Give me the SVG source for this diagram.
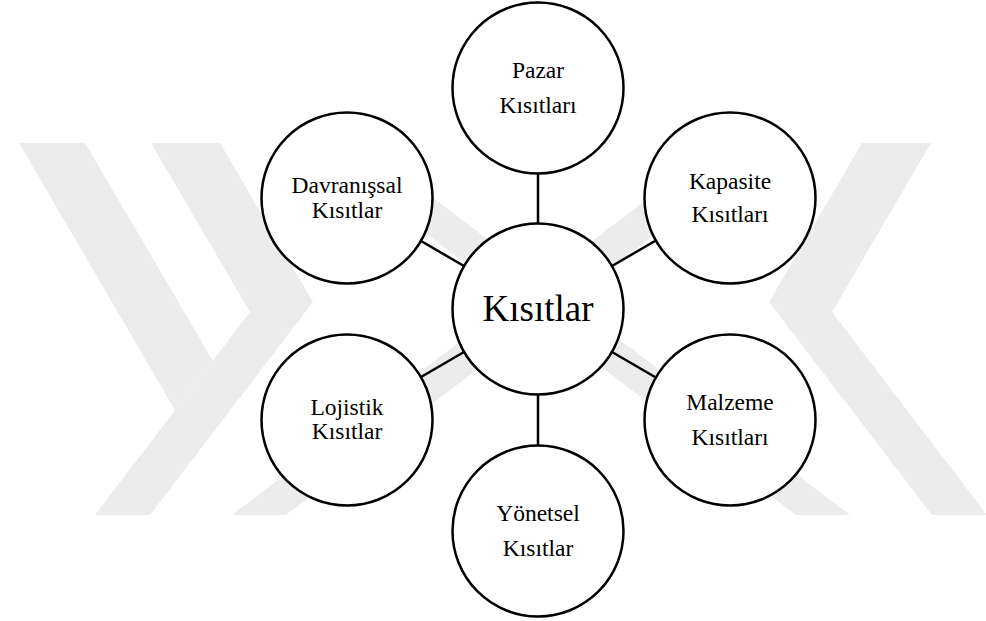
<svg xmlns="http://www.w3.org/2000/svg" width="986" height="621" viewBox="0 0 986 621">
<style>
.node{fill:#fff;stroke:#000;stroke-width:2.5}
.edge{stroke:#000;stroke-width:2.5;fill:none}
.lbl{font-family:"Liberation Serif","Times New Roman",serif;font-size:23.5px;fill:#000;text-anchor:middle}
.big{font-family:"Liberation Serif","Times New Roman",serif;font-size:37px;fill:#000;text-anchor:middle}
.wm{fill:#ececec}
</style>
<defs>
<clipPath id="wmclip"><rect x="0" y="143" width="986" height="372"/></clipPath>
</defs>
<rect width="986" height="621" fill="#fff"/>
<g id="watermark" clip-path="url(#wmclip)">
<polygon class="wm" points="151,143 220,143 313,302 150,515 95,515 250,312"/>
<polygon class="wm" points="931,143 862,143 769,302 932,515 987,515 832,312"/>
<polygon class="wm" points="19,143 85,143 213,361 175,410"/>
<polygon class="wm" points="232,515 286,515 775,143 721,143"/>
<polygon class="wm" points="850,515 796,515 307,143 361,143"/>
</g>
<g id="connectors">
<line class="edge" x1="538" y1="173" x2="538" y2="223"/>
<line class="edge" x1="538" y1="394" x2="538" y2="446"/>
<line class="edge" x1="421" y1="241" x2="464" y2="266"/>
<line class="edge" x1="655" y1="241" x2="612" y2="266"/>
<line class="edge" x1="421" y1="377" x2="464" y2="352"/>
<line class="edge" x1="655" y1="377" x2="612" y2="352"/>
</g>
<g id="center">
<circle class="node" cx="538" cy="309" r="85.5"/>
<text class="big" x="538" y="321">Kısıtlar</text>
</g>
<g id="pazar">
<circle class="node" cx="538" cy="88" r="85.5"/>
<text class="lbl" x="538" y="78">Pazar</text>
<text class="lbl" x="538" y="113">Kısıtları</text>
</g>
<g id="kapasite">
<circle class="node" cx="730" cy="198" r="85.5"/>
<text class="lbl" x="730" y="189">Kapasite</text>
<text class="lbl" x="730" y="222">Kısıtları</text>
</g>
<g id="malzeme">
<circle class="node" cx="730" cy="420" r="85.5"/>
<text class="lbl" x="730" y="410">Malzeme</text>
<text class="lbl" x="730" y="445">Kısıtları</text>
</g>
<g id="yonetsel">
<circle class="node" cx="538" cy="531" r="85.5"/>
<text class="lbl" x="538" y="521">Yönetsel</text>
<text class="lbl" x="538" y="556">Kısıtlar</text>
</g>
<g id="lojistik">
<circle class="node" cx="347" cy="420" r="85.5"/>
<text class="lbl" x="347" y="415">Lojistik</text>
<text class="lbl" x="347" y="439">Kısıtlar</text>
</g>
<g id="davranissal">
<circle class="node" cx="347" cy="198" r="85.5"/>
<text class="lbl" x="347" y="193">Davranışsal</text>
<text class="lbl" x="347" y="218">Kısıtlar</text>
</g>
</svg>
